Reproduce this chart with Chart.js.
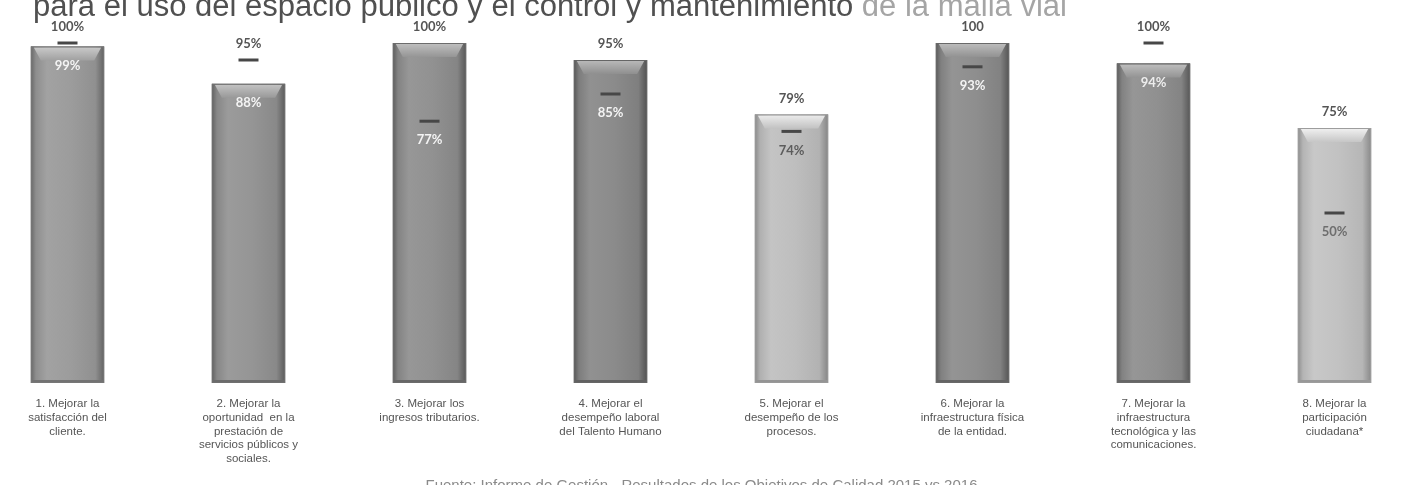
<!DOCTYPE html>
<html lang="es">
<head>
<meta charset="utf-8">
<title>Objetivos de Calidad 2015 vs 2016</title>
<script src="https://cdn.jsdelivr.net/npm/chart.js@4.4.1/dist/chart.umd.min.js"></script>
<style>
  html, body { margin: 0; padding: 0; background: #fff; overflow: hidden; }
  body { width: 1403px; height: 485px; position: relative; }
  .wrap { position: absolute; left: -23px; top: 0; width: 1448px; height: 485px; }
  .title { position: absolute; left: 33px; top: -10px; font: 31px/31px "Liberation Sans", Arial, sans-serif; color: #505050; white-space: nowrap; }
  .title span { color: #a5a5a5; }
  .source { position: absolute; left: 0; width: 1403px; top: 477px; text-align: center; font: 15px/15px "Liberation Sans", Arial, sans-serif; color: #8a8a8a; white-space: nowrap; }
</style>
</head>
<body>
<div class="wrap"><canvas id="obj-chart" width="1448" height="485"></canvas></div>
<div class="title">para el uso del espacio público y el control y mantenimiento <span>de la malla vial</span></div>
<div class="source">Fuente: Informe de Gestión - Resultados de los Objetivos de Calidad 2015 vs 2016</div>
<script>
/* Objetivos de calidad: barra + marca por objetivo */
const categories = [
  ['1. Mejorar la', 'satisfacción del', 'cliente.'],
  ['2. Mejorar la', 'oportunidad  en la', 'prestación de', 'servicios públicos y', 'sociales.'],
  ['3. Mejorar los', 'ingresos tributarios.'],
  ['4. Mejorar el', 'desempeño laboral', 'del Talento Humano'],
  ['5. Mejorar el', 'desempeño de los', 'procesos.'],
  ['6. Mejorar la', 'infraestructura física', 'de la entidad.'],
  ['7. Mejorar la', 'infraestructura', 'tecnológica y las', 'comunicaciones.'],
  ['8. Mejorar la', 'participación', 'ciudadana*'],
];
const barValues = [99, 88, 100, 95, 79, 100, 94, 75];
const markValues = [100, 95, 77, 85, 74, 93, 100, 50];
const topLabels = ['100%', '95%', '100%', '95%', '79%', '100', '100%', '75%'];
const innerLabels = ['99%', '88%', '77%', '85%', '74%', '93%', '94%', '50%'];

// grey level of each bar and ink of the label inside it
const barGrey = [154, 147, 143, 137, 188, 140, 142, 192];
const innerInk = ['#f4f4f4', '#f4f4f4', '#f4f4f4', '#f4f4f4', '#5c5c5c', '#f4f4f4', '#ededed', '#6e6e6e'];

const grey = (v, d) => { const c = Math.max(0, Math.min(255, v + d)); return `rgb(${c},${c},${c})`; };

// cylinder-like shading over each bar
const barLook = {
  id: 'barLook',
  afterDatasetDraw(chart, args) {
    if (args.index !== 0) return;
    const ctx = chart.ctx;
    args.meta.data.forEach((bar, i) => {
      const { x, y, base, width } = bar.getProps(['x', 'y', 'base', 'width'], true);
      const l = x - width / 2, r = x + width / 2, v = barGrey[i];
      ctx.save();
      const g = ctx.createLinearGradient(l, 0, r, 0);
      g.addColorStop(0, grey(v, -50));
      g.addColorStop(0.07, grey(v, -12));
      g.addColorStop(0.22, grey(v, 8));
      g.addColorStop(0.55, grey(v, 2));
      g.addColorStop(0.88, grey(v, -10));
      g.addColorStop(1, grey(v, -55));
      ctx.fillStyle = g;
      ctx.fillRect(l, y, width, base - y);
      const t = ctx.createLinearGradient(0, y, 0, y + 14);
      t.addColorStop(0, grey(v, 50));
      t.addColorStop(1, grey(v, 6));
      ctx.fillStyle = t;
      ctx.beginPath();
      ctx.moveTo(l + 3, y + 1); ctx.lineTo(r - 3, y + 1);
      ctx.lineTo(r - 10, y + 14); ctx.lineTo(l + 10, y + 14);
      ctx.closePath(); ctx.fill();
      ctx.fillStyle = grey(v, -40);
      ctx.fillRect(l + 1, base - 3, width - 2, 3);
      ctx.strokeStyle = grey(v, -35);
      ctx.lineWidth = 1;
      ctx.strokeRect(l + 0.5, y + 0.5, width - 1, base - y - 1);
      ctx.restore();
    });
  },
};

const valueText = {
  id: 'valueText',
  afterDatasetsDraw(chart) {
    const ctx = chart.ctx, yScale = chart.scales.y;
    ctx.save();
    ctx.textAlign = 'center';
    ctx.textBaseline = 'middle';
    ctx.font = 'bold 13px Lato, "Liberation Sans", sans-serif';
    chart.getDatasetMeta(0).data.forEach((bar, i) => {
      const pb = yScale.getPixelForValue(barValues[i]);
      const pm = yScale.getPixelForValue(markValues[i]);
      ctx.fillStyle = '#555';
      ctx.fillText(topLabels[i], bar.x, Math.min(pb, pm) - 16);
      ctx.fillStyle = innerInk[i];
      ctx.fillText(innerLabels[i], bar.x, Math.max(pb, pm) + 19);
    });
    ctx.restore();
  },
};

new Chart(document.getElementById('obj-chart'), {
  data: {
    labels: categories,
    datasets: [
      { type: 'bar', data: barValues, order: 1, backgroundColor: barGrey.map((v) => grey(v, 0)),
        categoryPercentage: 1, barPercentage: 0.405 },
      { type: 'line', data: markValues, order: 0, showLine: false, clip: false,
        pointStyle: 'line', pointRadius: 10, pointHoverRadius: 10,
        pointBorderWidth: 3, pointBorderColor: '#474747', pointBackgroundColor: '#474747' },
    ],
  },
  options: {
    responsive: false,
    animation: false,
    events: [],
    layout: { autoPadding: false, padding: { top: 43, bottom: 5, left: 0, right: 0 } },
    plugins: { legend: { display: false }, tooltip: { enabled: false } },
    scales: {
      x: {
        grid: { display: false, drawTicks: false },
        border: { display: false },
        afterFit: (scale) => { scale.paddingLeft = 0; scale.paddingRight = 0; },
        ticks: { autoSkip: false, maxRotation: 0, padding: 14, color: '#555',
          font: { family: '"Liberation Sans", Arial, sans-serif', size: 11.5, lineHeight: 1.2 } },
      },
      y: { display: false, min: 0, max: 100 },
    },
  },
  plugins: [barLook, valueText],
});
</script>
</body>
</html>
